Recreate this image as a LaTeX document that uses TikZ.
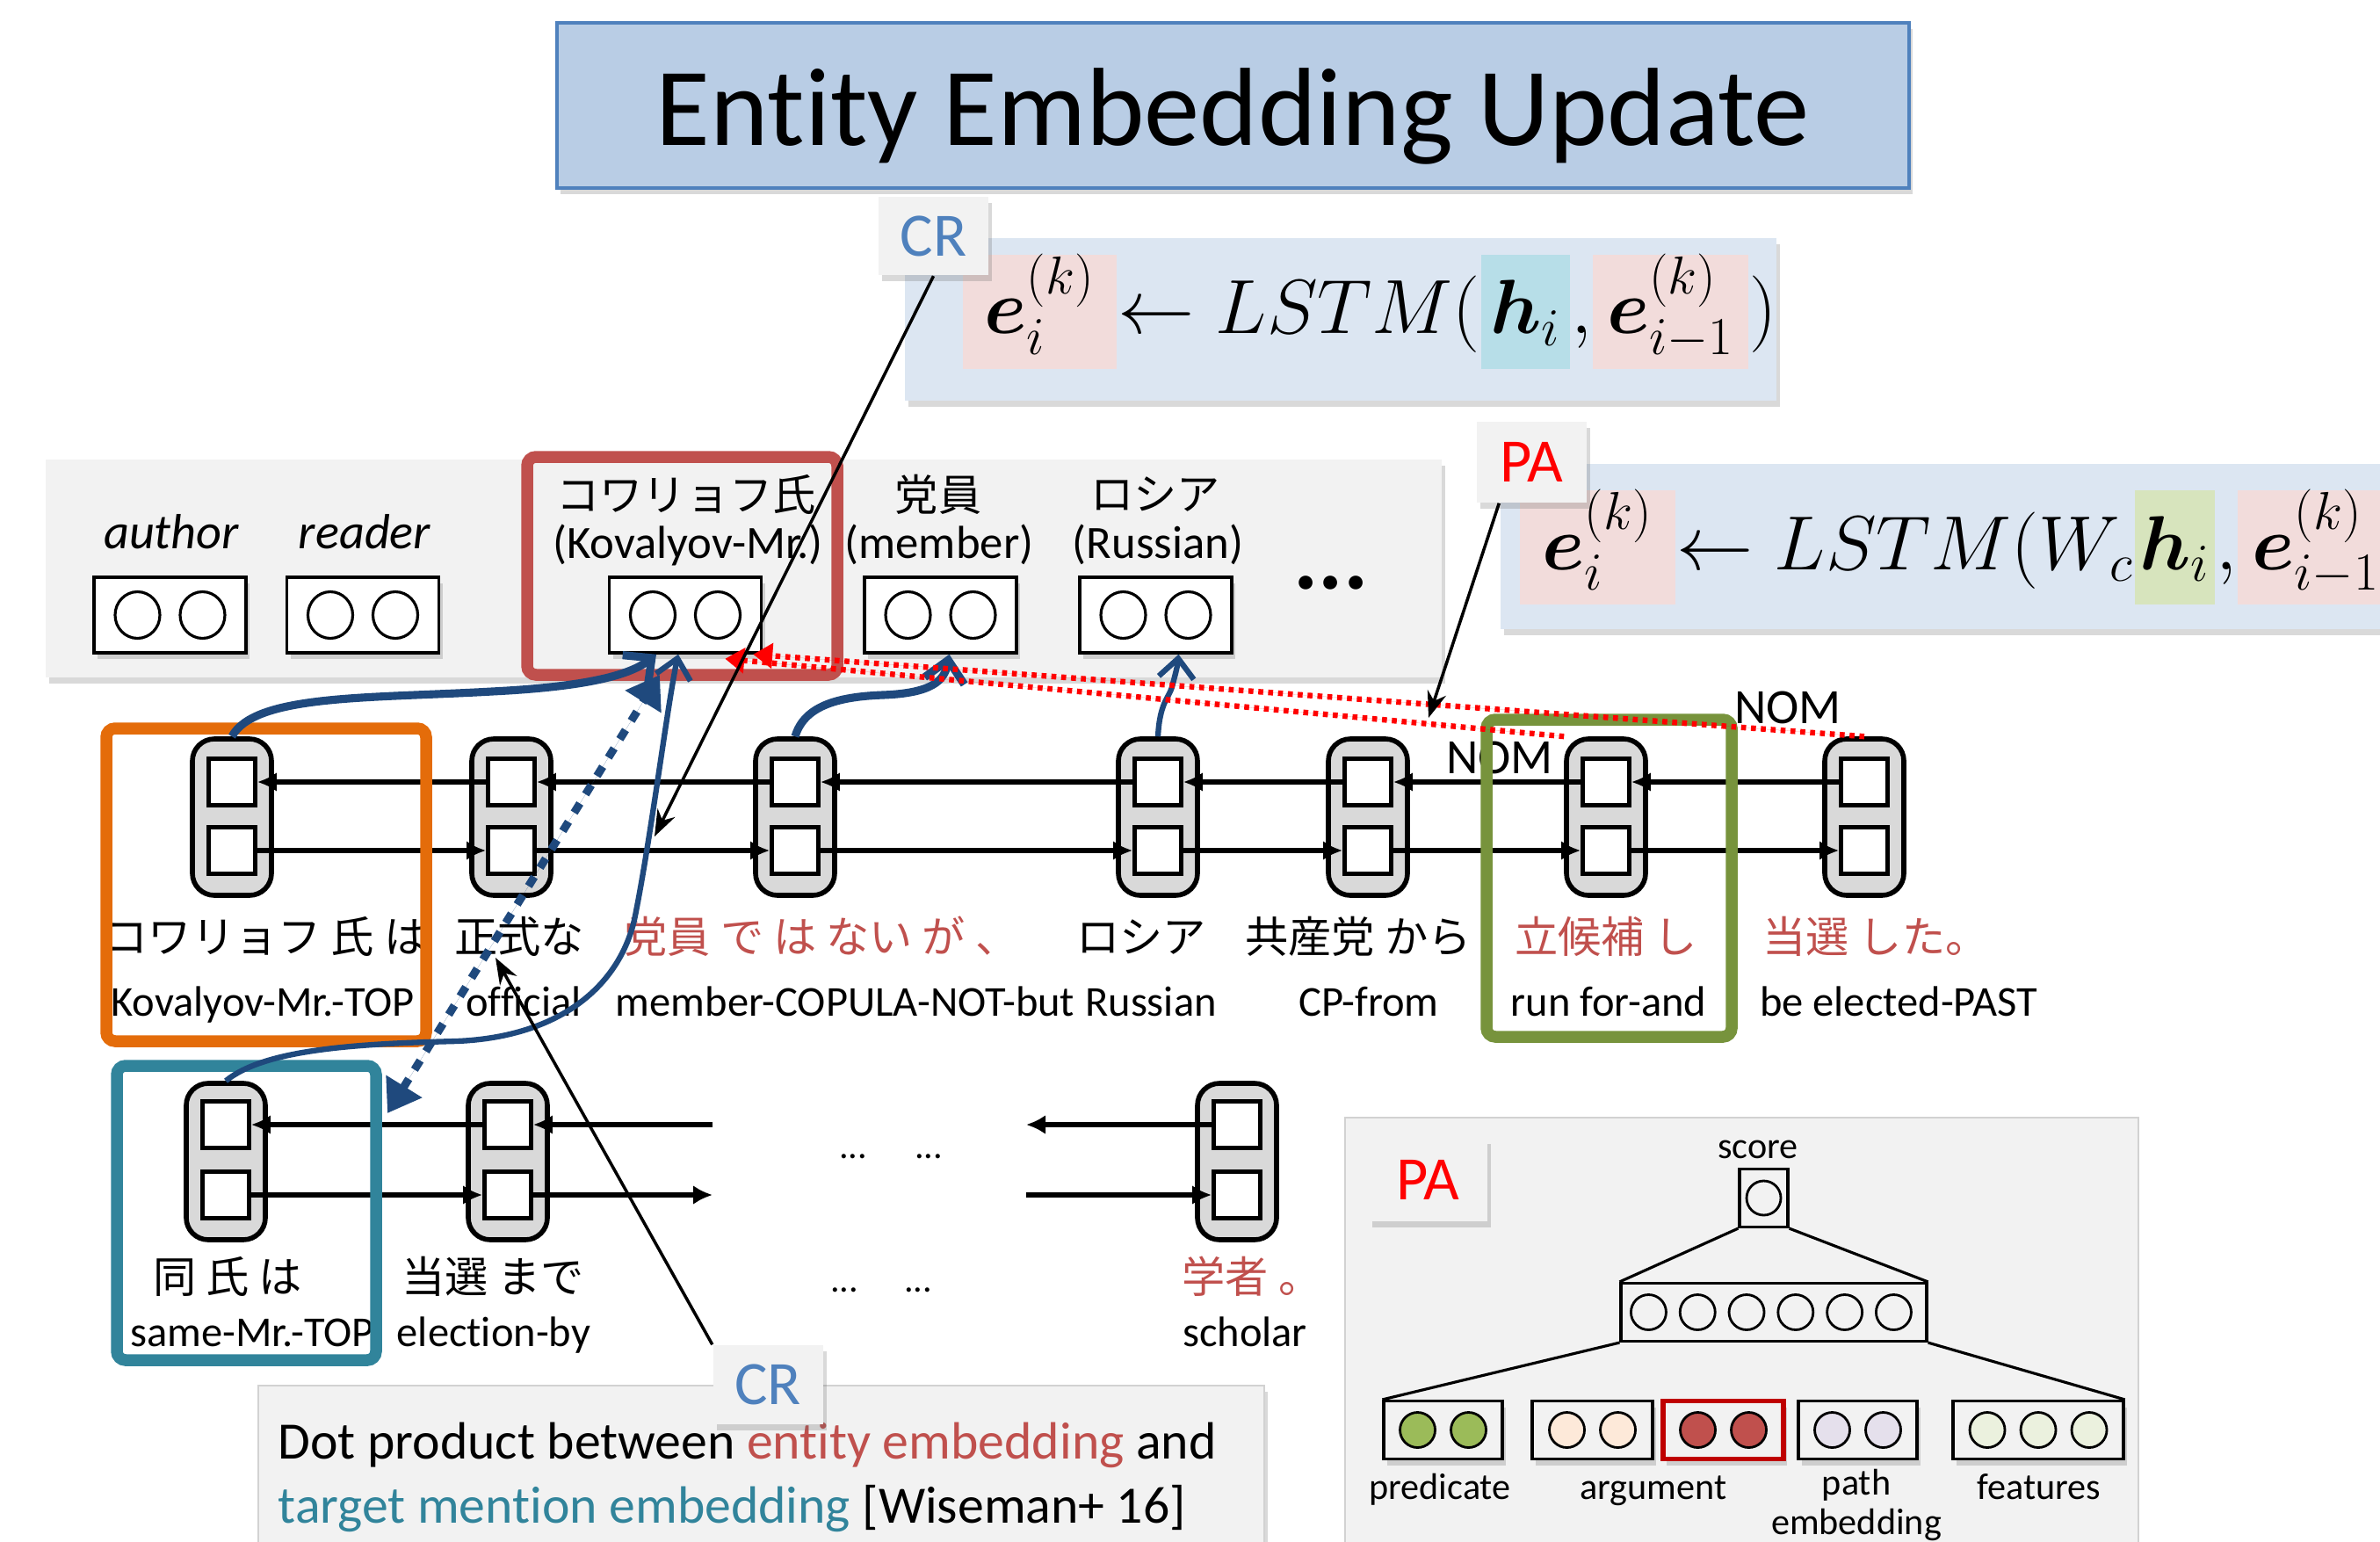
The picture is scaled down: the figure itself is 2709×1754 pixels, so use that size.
\documentclass[tikz,border=0pt]{standalone}
\usepackage{amsmath,amssymb}
\usepackage{fontspec}
\setmainfont{Carlito}[Ligatures=NoCommon]
\newfontfamily\jp{Noto Sans CJK JP}
\usetikzlibrary{arrows.meta,calc,positioning,shadows,shapes.geometric}
\newcommand{\fsz}[1]{\fontsize{#1}{#1}\selectfont}
\definecolor{titleblue}{HTML}{B9CDE5}
\definecolor{titleedge}{HTML}{4F81BD}
\definecolor{eqblue}{HTML}{DCE6F2}
\definecolor{hlpinkc}{HTML}{F2DCDB}
\definecolor{hlcyanc}{HTML}{B7DEE8}
\definecolor{hlgreenc}{HTML}{D7E4BD}
\definecolor{panelgray}{HTML}{F2F2F2}
\definecolor{unitgray}{HTML}{D9D9D9}
\definecolor{redT}{HTML}{C0504D}
\definecolor{tealT}{HTML}{31849B}
\definecolor{orangeB}{HTML}{E46C0A}
\definecolor{greenB}{HTML}{77933C}
\definecolor{arrowblue}{HTML}{1F497D}
\definecolor{crblue}{HTML}{4F81BD}
\definecolor{predgreen}{HTML}{9BBB59}
\definecolor{argpeach}{HTML}{FDE9D9}
\definecolor{pathlav}{HTML}{E5E0EC}
\definecolor{featgreen}{HTML}{EBF1DE}

\begin{document}
\begin{tikzpicture}[x=0.1mm, y=-0.1mm,
    softshadow/.style={drop shadow={opacity=0.25, shadow xshift=0.4mm, shadow yshift=-0.7mm, fill=black!60}},
    titlebox/.style={draw=titleedge, line width=1.4pt, fill=titleblue, minimum width=153.9mm, minimum height=18.8mm, softshadow},
    eqbox/.style={fill=eqblue, inner sep=0pt, softshadow},
    lbltag/.style={fill=panelgray, minimum width=12.5mm, minimum height=8.9mm, inner sep=0pt, font=\fsz{20}, softshadow},
    eqtxt/.style={inner sep=0pt, anchor=base west},
    hlpink/.style={fill=hlpinkc, inner xsep=1mm, inner ysep=0pt, text height=9mm, text depth=4mm, anchor=base west},
    hlcyan/.style={hlpink, fill=hlcyanc},
    hlgreen/.style={hlpink, fill=hlgreenc},
    lstm/.style={draw, line width=1.6pt, rounded corners=2.5mm, fill=unitgray, minimum width=9mm, minimum height=17.8mm, inner sep=0pt},
    cellbox/.style={draw, line width=1.4pt, fill=white, minimum size=5.3mm, inner sep=0pt},
    memvec/.style={draw, line width=1pt, fill=white, minimum width=17.3mm, minimum height=8.6mm, inner sep=0pt, softshadow},
    vcirc/.style={draw, ellipse, line width=0.9pt, fill=white, minimum width=5.1mm, minimum height=5.3mm, inner sep=0pt},
    memlbl/.style={inner sep=0pt, font=\fsz{15}},
    jpw/.style={anchor=base, inner sep=0pt, font=\jp\fsz{14}},
    enw/.style={anchor=base, inner sep=0pt, font=\fsz{13.8}},
    rnnarrow/.style={line width=1.6pt, -{Latex[length=2.2mm,width=2.2mm]}},
    bluethick/.style={draw=arrowblue, line width=2.6pt, -{Straight Barb[length=2.4mm,width=4.6mm]}},
    bluethin/.style={draw=arrowblue, line width=1.8pt, -{Straight Barb[length=2.2mm,width=4mm]}},
    dotprod/.style={draw=arrowblue, fill=arrowblue, line width=2.6pt, dash pattern=on 3.5pt off 3.5pt, {Triangle[length=3.6mm,width=4.6mm]}-{Triangle[length=3.6mm,width=4.6mm]}},
    nomarrow/.style={draw=red, fill=red, line width=1.8pt, dash pattern=on 1.6pt off 1.6pt, -{Triangle[length=2.2mm,width=2.8mm]}},
    callout/.style={line width=1pt, -{Stealth[length=3mm,width=2.2mm]}},
    frame/.style={line width=1.35mm, rounded corners=1mm},
    sbox/.style={draw, line width=0.9pt, fill=panelgray, inner sep=0pt, minimum height=6.6mm},
    pcirc/.style={draw, circle, line width=0.8pt, minimum size=4mm, inner sep=0pt},
    palbl/.style={inner sep=0pt, font=\fsz{12}}
]
\useasboundingbox (0,0) rectangle (2709,1754);
\clip (0,0) rectangle (2709,1754);

% title
\node[titlebox] (title) at (1403.5,120) {};
\node[inner sep=0pt, font=\fsz{36}] at ([yshift=-1.2mm]title.center) {Entity Embedding Update};

% update rules
\node[eqbox, minimum width=99.2mm, minimum height=18.5mm] (creq) at (1526,363.5) {};
\begin{scope}[font=\fsz{24}]
\node[hlpink, minimum width=17.5mm] (e1) at (1095,380) {$\boldsymbol{e}_i^{(k)}$};
\node[eqtxt] (a1) at (e1.base east) {$\leftarrow LSTM($};
\node[hlcyan, minimum width=9.9mm] (h1) at (a1.base east) {$\boldsymbol{h}_i$};
\node[eqtxt] (c1) at (h1.base east) {$,$};
\node[hlpink, minimum width=17.7mm] (e2) at (c1.base east) {$\boldsymbol{e}_{i-1}^{(k)}$};
\node[eqtxt] (p1) at (e2.base east) {$)$};
\end{scope}
\node[lbltag, text=crblue] (crTop) at (1062.5,269) {CR};

\node[eqbox, minimum width=105.3mm, minimum height=18.8mm, anchor=north west] (paeq) at (1707,527) {};
\begin{scope}[font=\fsz{24}]
\node[hlpink, minimum width=17.7mm] (e3) at (1729,648) {$\boldsymbol{e}_i^{(k)}$};
\node[eqtxt] (a3) at (e3.base east) {$\leftarrow LSTM(W_c$};
\node[hlgreen, minimum width=7.4mm, inner xsep=0.5mm] (h3) at (a3.base east) {$\boldsymbol{h}_i$};
\node[eqtxt] (c3) at (h3.base east) {$,$};
\node[hlpink, minimum width=17.7mm] (e4) at (c3.base east) {$\boldsymbol{e}_{i-1}^{(k)}$};
\node[eqtxt] (p3) at (e4.base east) {$)$};
\end{scope}
\node[lbltag, text=red, minimum height=9.2mm] (paTop) at (1743.5,526) {PA};

% entity memory
\path[fill=panelgray, softshadow] (52,523) rectangle (1641,771);
\foreach \n/\x in {mAuthor/193.5, mReader/413, mKov/780, mMem/1070.5, mRus/1315.5} {
  \node[memvec] (\n) at (\x,700) {};
  \foreach \dx in {-37,37}
    \node[vcirc] at ($(\n)+(\dx,0)$) {};
}
\node[memlbl, font=\fsz{16}\itshape] at (195,605) {author};
\node[memlbl, font=\fsz{16}\itshape] at (415,605) {reader};
\node[memlbl, font=\jp\fsz{14}] at (781,563) {コワリョフ氏};
\node[memlbl] at (783,620) {(Kovalyov-Mr.)};
\node[memlbl, font=\jp\fsz{14}] at (1068,563) {党員};
\node[memlbl] at (1069,620) {(member)};
\node[memlbl, font=\jp\fsz{14}] at (1315,563) {ロシア};
\node[memlbl] at (1318,620) {(Russian)};
\node[memlbl, font=\fsz{30}\bfseries] at (1515,663) {...};
\draw[frame, redT] (600,520) rectangle (953,768);

% sentence 1
\foreach \n/\x in {u1/264,u2/582,u3/905,u4/1318,u5/1557,u6/1828,u7/2122} {
  \node[lstm] (\n) at (\x,930) {};
  \node[cellbox] (\n-a) at (\x,890) {};
  \node[cellbox] (\n-b) at (\x,968) {};
}
\foreach \a/\b in {u1/u2,u2/u3,u3/u4,u4/u5,u5/u6,u6/u7} {
  \draw[rnnarrow] (\b-a.west) -- (\a-a.east);
  \draw[rnnarrow] (\a-b.east) -- (\b-b.west);
}
\node[jpw] at (303,1084) {コワリョフ 氏 は};
\node[jpw] at (591,1084) {正式な};
\node[jpw, text=redT] at (935,1084) {党員 で は ない が 、};
\node[jpw] at (1299,1084) {ロシア};
\node[jpw] at (1546,1084) {共産党 から};
\node[jpw, text=redT] at (1828,1084) {立候補 し};
\node[jpw, text=redT] at (2135,1084) {当選 した。};
\node[enw] at (299,1156) {Kovalyov-Mr.-TOP};
\node[enw] at (596,1156) {official};
\node[enw] at (962,1156) {member-COPULA-NOT-but};
\node[enw] at (1310,1156) {Russian};
\node[enw] at (1558,1156) {CP-from};
\node[enw] at (1831,1156) {run for-and};
\node[enw] at (2161,1156) {be elected-PAST};

% sentence 2
\foreach \n/\x in {v1/257,v2/578,v3/1408} {
  \node[lstm] (\n) at (\x,1322) {};
  \node[cellbox] (\n-a) at (\x,1280) {};
  \node[cellbox] (\n-b) at (\x,1360) {};
}
\coordinate (v2outa) at (811,1280);
\coordinate (v2outb) at (811,1360);
\coordinate (v3ina) at (1168,1280);
\coordinate (v3inb) at (1168,1360);
\draw[rnnarrow] (v2-a.west) -- (v1-a.east);
\draw[rnnarrow] (v1-b.east) -- (v2-b.west);
\draw[rnnarrow] (v2outa) -- (v2-a.east);
\draw[rnnarrow] (v2-b.east) -- (v2outb);
\draw[rnnarrow] (v3-a.west) -- (v3ina);
\draw[rnnarrow] (v3inb) -- (v3-b.west);
\node[enw, font=\fsz{12}] at (971,1318) {...};
\node[enw, font=\fsz{12}] at (1057,1318) {...};
\node[enw, font=\fsz{12}] at (961,1470) {...};
\node[enw, font=\fsz{12}] at (1045,1470) {...};
\node[jpw] at (259,1471) {同 氏 は};
\node[jpw] at (561,1471) {当選 まで};
\node[jpw, text=redT] at (1425,1471) {学者 。};
\node[enw] at (287,1532) {same-Mr.-TOP};
\node[enw] at (562,1532) {election-by};
\node[enw] at (1417,1532) {scholar};

% NOM links
\node[inner sep=0pt, font=\fsz{16}] at (2035,805) {NOM};
\node[inner sep=0pt, font=\fsz{16}] at (1707,862) {NOM};

% mention frames
\draw[frame, orangeB] (121,829) rectangle (485,1185);
\draw[frame, tealT] (133,1213) rectangle (428,1548);
\draw[frame, greenB] (1692,819) rectangle (1971,1180);

% memory reads and writes
\draw[bluethick] (u1.north) .. controls (290,790) and (420,795) .. (560,787)
  .. controls (660,782) and (715,770) .. ([xshift=-3.3mm]mKov.south);
\draw[bluethick] (u3.north) .. controls (915,805) and (950,793) .. (1005,791)
  .. controls (1060,789) and (1075,775) .. ([xshift=1mm]mMem.south);
\draw[bluethin] (u4.north) .. controls (1320,800) and (1330,795) .. (1334,782)
  .. controls (1337,770) and (1340,760) .. ([xshift=2.6mm]mRus.south);
\draw[bluethin] (v1.north) .. controls (300,1195) and (400,1188) .. (520,1185)
  .. controls (640,1180) and (705,1120) .. (722,1047)
  .. controls (740,960) and (760,800) .. ([xshift=-0.8mm]mKov.south);
\coordinate (dpL) at (441,1267);
\coordinate (dpU) at (751,768);
\draw[dotprod] (dpL) -- (dpU);
\draw[nomarrow] (u7.north) -- ([xshift=-1.1mm]mKov.south east);
\draw[nomarrow] (u6.north west) -- ([xshift=-4.3mm,yshift=-0.5mm]mKov.south east);

% CR explanation
\path[fill=panelgray, draw=gray!35, softshadow] (294,1577) rectangle (1439,1770);
\node[anchor=base west, inner sep=0pt, font=\fsz{17}] (dot1) at (316,1660)
  {Dot product between \textcolor{redT}{entity embedding} and};
\node[anchor=base west, inner sep=0pt, font=\fsz{17}] (dot2) at (316,1733)
  {\textcolor{tealT}{target mention embedding} [Wiseman+ 16]};
\node[lbltag, text=crblue, minimum height=9mm] (crBot) at (874,1576) {CR};

% PA scorer
\path[fill=panelgray, draw=gray!35] (1531,1272) rectangle (2434,1770);
\node[lbltag, text=red, minimum width=13.5mm, minimum height=9.5mm] (paIn) at (1625.5,1342.5) {PA};
\node[sbox, minimum width=5.5mm] (sc) at (2007.5,1363.5) {};
\node[pcirc, minimum size=3.9mm] at (sc) {};
\node[palbl] at (2001,1308) {score};
\node[sbox, minimum width=34.8mm] (hid) at (2019,1493.5) {};
\foreach \i in {0,...,5}
  \node[pcirc] at ($(hid.west)+(33+55.8*\i,0)$) {};
\node[sbox, minimum width=13.5mm, softshadow] (pred) at (1642.5,1627.5) {};
\node[sbox, minimum width=13.7mm, softshadow] (arg1) at (1812.5,1627.5) {};
\node[sbox, minimum width=13.7mm, draw=red!75!black, line width=1.6pt, softshadow] (arg2) at (1961.5,1627.5) {};
\node[sbox, minimum width=13.5mm, softshadow] (path) at (2114.5,1627.5) {};
\node[sbox, minimum width=19.4mm, softshadow] (feat) at (2320,1627.5) {};
\foreach \n/\c in {pred/predgreen, arg1/argpeach, arg2/redT, path/pathlav} {
  \foreach \dx in {-29,29}
    \node[pcirc, fill=\c] at ($(\n)+(\dx,0)$) {};
}
\foreach \dx in {-58,0,58}
  \node[pcirc, fill=featgreen] at ($(feat)+(\dx,0)$) {};
\draw[line width=0.9pt] (sc.south west) -- (hid.north west);
\draw[line width=0.9pt] (sc.south east) -- (hid.north east);
\draw[line width=0.9pt] (hid.south west) -- (pred.north west);
\draw[line width=0.9pt] (hid.south east) -- (feat.north east);
\node[palbl] at (1639,1695) {predicate};
\node[palbl] at (1882,1697) {argument};
\node[palbl] at (2113,1690) {path};
\node[palbl] at (2113,1735) {embedding};
\node[palbl] at (2321,1692) {features};

% task links
\coordinate (crTip) at (745,952);
\coordinate (paTip) at (1626,817);
\coordinate (crBotTip) at (564,1090);
\draw[callout] (crTop.south) -- (crTip);
\draw[callout] ([xshift=2.6mm]paTop.south west) -- (paTip);
\draw[callout] (crBot.north west) -- (crBotTip);
\end{tikzpicture}
\end{document}
